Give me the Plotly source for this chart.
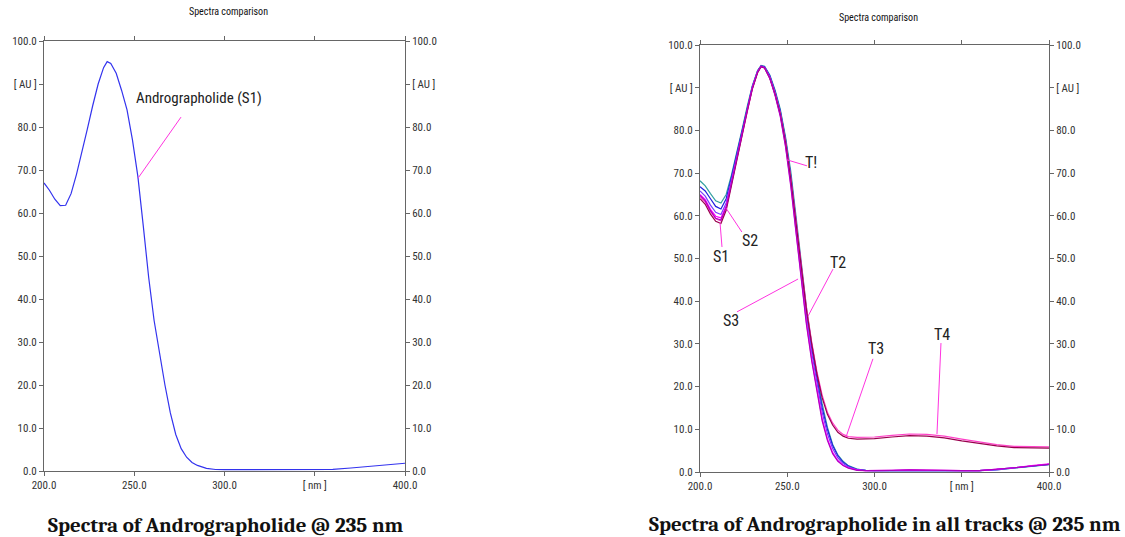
import plotly.graph_objects as go

# ---------------- data ----------------
wavelength = [200, 203, 206, 209, 212, 215, 218, 221, 224, 227, 230, 233, 235, 237, 240, 243,
              246, 249, 252, 255, 258, 261, 264, 267, 270, 273, 276, 279, 282, 285, 290, 295,
              300, 310, 320, 330, 340, 350, 360, 370, 380, 390, 400]

# left panel: Andrographolide standard (S1)
std_s1 = [67.0, 65.3, 63.2, 61.7, 61.8, 64.5, 69.0, 74.0, 79.5, 85.0, 90.0, 93.8, 95.2, 94.8, 92.5, 88.5,
          84.0, 77.0, 68.5, 57.0, 45.0, 35.0, 27.0, 20.0, 13.5, 8.5, 5.2, 3.2, 2.0, 1.3, 0.6, 0.35,
          0.3, 0.3, 0.3, 0.35, 0.3, 0.3, 0.4, 0.7, 1.1, 1.4, 1.8]

# right panel: all tracks
track_names = ["T1", "T2", "S3", "S2", "T3", "T4", "S1"]
track_colors = ["#33a0a0", "#2020dd", "#7a3cff", "#ff00ff", "#ff40c8", "#99004d", "#b000c0"]
tracks = [
    [68.2, 67.0, 65.2, 63.5, 63.0, 65.0, 69.5, 74.5, 80.0, 85.5, 90.5, 94.0, 95.2, 95.0, 93.0, 89.5,
     85.0, 78.5, 70.5, 60.0, 48.5, 38.5, 30.0, 22.5, 16.0, 10.5, 6.5, 4.0, 2.5, 1.5, 0.7, 0.4,
     0.3, 0.3, 0.3, 0.3, 0.3, 0.3, 0.3, 0.5, 0.9, 1.3, 1.7],
    [66.8, 65.8, 64.0, 62.2, 61.6, 64.0, 69.0, 74.3, 79.8, 85.3, 90.3, 93.9, 95.1, 94.9, 92.8, 89.2,
     84.6, 78.0, 69.5, 59.0, 47.5, 37.5, 29.0, 21.5, 15.0, 10.0, 6.2, 3.8, 2.3, 1.4, 0.6, 0.4,
     0.3, 0.3, 0.4, 0.3, 0.3, 0.3, 0.3, 0.6, 1.0, 1.4, 1.8],
    [65.8, 64.6, 62.5, 60.8, 60.3, 63.0, 68.3, 73.8, 79.5, 85.0, 90.1, 93.8, 95.0, 94.8, 92.6, 88.9,
     84.2, 77.3, 68.5, 58.0, 46.5, 36.5, 28.0, 20.5, 14.0, 9.0, 5.5, 3.3, 2.0, 1.2, 0.5, 0.3,
     0.3, 0.3, 0.3, 0.3, 0.3, 0.3, 0.3, 0.5, 1.0, 1.4, 1.8],
    [65.0, 63.8, 61.5, 59.9, 59.5, 62.3, 67.8, 73.5, 79.2, 84.8, 90.0, 93.7, 95.0, 94.7, 92.3, 88.4,
     83.5, 76.5, 67.5, 56.5, 45.0, 35.0, 26.5, 19.0, 12.5, 7.8, 4.6, 2.7, 1.6, 1.0, 0.5, 0.3,
     0.3, 0.4, 0.5, 0.4, 0.3, 0.3, 0.3, 0.6, 1.0, 1.5, 1.9],
    [64.5, 63.2, 61.0, 59.3, 58.8, 61.8, 67.4, 73.2, 79.0, 84.6, 89.8, 93.6, 94.9, 94.6, 92.3, 88.6,
     84.0, 77.5, 69.0, 59.0, 48.0, 38.5, 30.5, 23.5, 18.0, 14.0, 11.5, 9.8, 8.8, 8.3, 8.1, 8.1,
     8.2, 8.6, 8.9, 8.8, 8.4, 7.7, 7.0, 6.4, 6.0, 5.9, 5.9],
    [64.0, 62.7, 60.4, 58.7, 58.2, 61.3, 67.0, 72.9, 78.8, 84.4, 89.7, 93.5, 94.9, 94.6, 92.2, 88.5,
     83.8, 77.2, 68.6, 58.5, 47.5, 38.0, 30.0, 23.0, 17.4, 13.5, 11.0, 9.3, 8.4, 7.9, 7.7, 7.7,
     7.8, 8.2, 8.5, 8.4, 8.0, 7.3, 6.7, 6.1, 5.7, 5.6, 5.6],
    [64.8, 63.5, 61.2, 59.4, 59.0, 62.0, 67.6, 73.4, 79.1, 84.7, 89.9, 93.7, 95.0, 94.7, 92.2, 88.2,
     83.3, 76.2, 67.0, 56.0, 44.5, 34.5, 26.0, 18.5, 12.0, 7.4, 4.3, 2.5, 1.5, 0.9, 0.4, 0.3,
     0.3, 0.4, 0.5, 0.4, 0.3, 0.3, 0.3, 0.6, 1.0, 1.4, 1.8],
]

x_tickvals = [200, 250, 300, 350, 400]
x_ticktext = ["200.0", "250.0", "300.0", "[ nm ]", "400.0"]
y_tickvals = [0, 10, 20, 30, 40, 50, 60, 70, 80, 90, 100]
y_ticktext = ["0.0", "10.0", "20.0", "30.0", "40.0", "50.0", "60.0", "70.0", "80.0", "[ AU ]", "100.0"]

# ---------------- figure ----------------
NARROW = "Liberation Sans Narrow, Arial Narrow, Roboto Condensed, Roboto, Liberation Sans, Arial"
SERIF = "Cambria, Liberation Serif, DejaVu Serif, serif"
PINK = "#ff33e0"

fig = go.Figure()

fig.add_trace(go.Scatter(x=wavelength, y=std_s1, mode="lines", name="Andrographolide (S1)",
                         line=dict(color="#3333ee", width=1.2), xaxis="x", yaxis="y"))
# same data on the right-hand mirror axis (invisible) so its labels are drawn
fig.add_trace(go.Scatter(x=wavelength, y=std_s1, mode="lines", hoverinfo="skip",
                         line=dict(color="rgba(0,0,0,0)", width=0), xaxis="x", yaxis="y3"))

for name, color, vals in zip(track_names, track_colors, tracks):
    fig.add_trace(go.Scatter(x=wavelength, y=vals, mode="lines", name=name,
                             line=dict(color=color, width=1.2), xaxis="x2", yaxis="y2"))
fig.add_trace(go.Scatter(x=wavelength, y=tracks[0], mode="lines", hoverinfo="skip",
                         line=dict(color="rgba(0,0,0,0)", width=0), xaxis="x2", yaxis="y4"))

axis_common = dict(showline=True, linecolor="#666666", linewidth=1, ticks="outside", ticklen=4,
                   tickcolor="#666666", showgrid=False, zeroline=False, automargin=False,
                   tickfont=dict(family=NARROW, size=11, color="#333333"))

xcommon = dict(axis_common, range=[200, 400], tickvals=x_tickvals, ticktext=x_ticktext,
               mirror="allticks")
ycommon = dict(axis_common, range=[0, 100], tickvals=y_tickvals, ticktext=y_ticktext)

L_dom_x = [44 / 1125, 405 / 1125]
L_dom_y = [1 - 471 / 537, 1 - 41 / 537]
R_dom_x = [700 / 1125, 1049 / 1125]
R_dom_y = [1 - 472 / 537, 1 - 45 / 537]

fig.update_layout(
    width=1125, height=537,
    margin=dict(l=0, r=0, t=0, b=0),
    paper_bgcolor="white", plot_bgcolor="white",
    showlegend=False,
    xaxis=dict(xcommon, domain=L_dom_x, anchor="y"),
    yaxis=dict(ycommon, domain=L_dom_y, anchor="x"),
    yaxis3=dict(ycommon, overlaying="y", side="right", anchor="x"),
    xaxis2=dict(xcommon, domain=R_dom_x, anchor="y2"),
    yaxis2=dict(ycommon, domain=R_dom_y, anchor="x2"),
    yaxis4=dict(ycommon, overlaying="y2", side="right", anchor="x2"),
)

annotations = [
    dict(text="Spectra comparison", x=228 / 1125, y=1 - 12 / 537, xref="paper", yref="paper",
         xanchor="center", yanchor="middle", showarrow=False,
         font=dict(family=NARROW, size=10, color="#111")),
    dict(text="Spectra comparison", x=878 / 1125, y=1 - 17 / 537, xref="paper", yref="paper",
         xanchor="center", yanchor="middle", showarrow=False,
         font=dict(family=NARROW, size=10, color="#111")),
    dict(text="<b>Spectra of Andrographolide @ 235 nm</b>", x=226 / 1125, y=1 - 525 / 537,
         xref="paper", yref="paper", xanchor="center", yanchor="middle", showarrow=False,
         font=dict(family=SERIF, size=21, color="#111")),
    dict(text="<b>Spectra of Andrographolide in all tracks @ 235 nm</b>", x=885 / 1125, y=1 - 524 / 537,
         xref="paper", yref="paper", xanchor="center", yanchor="middle", showarrow=False,
         font=dict(family=SERIF, size=21, color="#111")),
    dict(text="Andrographolide (S1)", x=285.9, y=86.7, xref="x", yref="y", showarrow=False,
         xanchor="center", yanchor="middle", font=dict(family=NARROW, size=15, color="#222")),
]
labels_right = [("T!", 263.5, 72.6), ("S1", 212.0, 50.4), ("S2", 228.5, 54.3), ("S3", 217.8, 35.4),
                ("T2", 279.0, 49.0), ("T3", 300.9, 29.0), ("T4", 338.7, 32.3)]
for t, lx, ly in labels_right:
    annotations.append(dict(text=t, x=lx, y=ly, xref="x2", yref="y2", showarrow=False,
                            xanchor="center", yanchor="middle",
                            font=dict(family=NARROW, size=16, color="#222")))
fig.update_layout(annotations=annotations)

leaders_left = [(252.1, 68.1, 275.9, 82.3)]
leaders_right = [(249.9, 73.1, 261.3, 71.7), (212.6, 52.7, 211.5, 58.3), (224.0, 56.2, 214.9, 61.8),
                 (221.2, 37.5, 256.2, 45.2), (276.2, 47.5, 261.9, 36.5), (299.1, 26.5, 283.7, 8.2),
                 (338.1, 30.2, 335.8, 8.9)]
shapes = []
for x0, y0, x1, y1 in leaders_left:
    shapes.append(dict(type="line", x0=x0, y0=y0, x1=x1, y1=y1, xref="x", yref="y",
                       line=dict(color=PINK, width=1)))
for x0, y0, x1, y1 in leaders_right:
    shapes.append(dict(type="line", x0=x0, y0=y0, x1=x1, y1=y1, xref="x2", yref="y2",
                       line=dict(color=PINK, width=1)))
fig.update_layout(shapes=shapes)

fig.write_html("out.html")
